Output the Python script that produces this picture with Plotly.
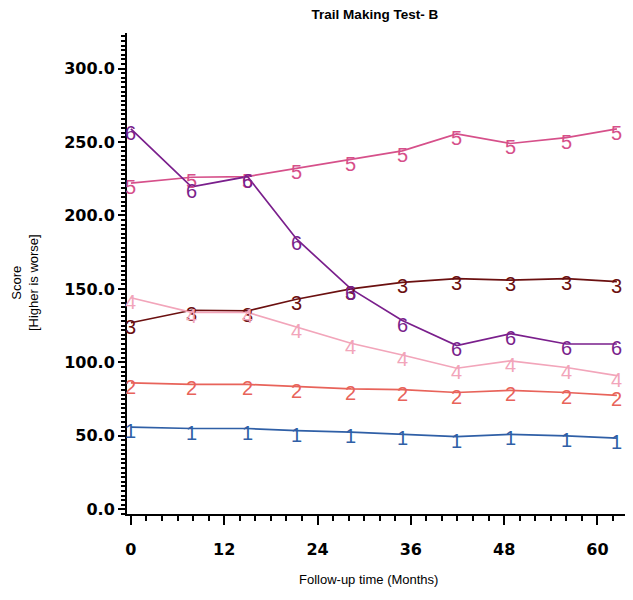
import plotly.graph_objects as go

months = [0, 7.8, 15.0, 21.3, 28.3, 34.9, 41.9, 48.8, 56.0, 62.5]

series_names = ["1", "2", "3", "4", "5", "6"]
s1 = [56, 55, 55, 53.5, 52.5, 51, 49.5, 51, 50, 48.5]
s2 = [86, 85, 85, 83.5, 82, 81.5, 79.5, 81, 79.5, 77.5]
s3 = [127, 135.5, 135, 143, 150, 154.5, 157, 156, 157, 155]
s4 = [144, 134, 134, 124, 113, 105, 96, 101, 96.5, 91]
s5 = [222, 226, 226.5, 232, 238, 244, 255.5, 249, 253, 259]
s6 = [259, 219.5, 226.5, 184, 150, 128.5, 111.5, 119.5, 112.5, 112.5]
series_values = [s1, s2, s3, s4, s5, s6]
colors = ["#2f5fa6", "#e8635a", "#6b1010", "#f2a5ba", "#d6508a", "#7a1f8c"]

x_tick_vals = [0, 12, 24, 36, 48, 60]
y_tick_vals = [0, 50, 100, 150, 200, 250, 300]
y_tick_text = ["0.0", "50.0", "100.0", "150.0", "200.0", "250.0", "300.0"]

fig = go.Figure()
annotations = []
for name, vals, col in zip(series_names, series_values, colors):
    fig.add_trace(go.Scatter(
        x=months, y=vals, mode="lines", name=name,
        line=dict(color=col, width=1.7), showlegend=False,
    ))
    for xv, yv in zip(months, vals):
        annotations.append(dict(
            x=xv, y=yv, xref="x", yref="y", text=name, showarrow=False,
            xanchor="center", yanchor="middle", yshift=-4,
            font=dict(family="Liberation Sans", size=20, color=col),
        ))

annotations.append(dict(text="Score<br>[Higher is worse]", textangle=-90,
                        xref="paper", yref="paper", x=-0.204, y=0.48,
                        xanchor="center", yanchor="middle", showarrow=False,
                        font=dict(family="Liberation Sans", size=13, color="black")))
annotations.append(dict(text="Follow-up time (Months)",
                        xref="paper", yref="paper", x=0.482, y=-0.137,
                        xanchor="center", yanchor="middle", showarrow=False,
                        font=dict(family="Liberation Sans", size=13, color="black")))

fig.update_layout(
    width=625, height=592,
    margin=dict(l=119, r=6, t=25, b=86, autoexpand=False),
    paper_bgcolor="white", plot_bgcolor="white",
    title=dict(text="<b>Trail Making Test- B</b>", x=0.587, xanchor="center",
               y=0.989, yanchor="middle",
               font=dict(family="Liberation Sans", size=13.5, color="black")),
    xaxis=dict(range=[-0.5, 63.8], tickvals=x_tick_vals, automargin=False,
               ticks="outside", ticklen=9, tickwidth=2, tickcolor="black",
               showline=True, linecolor="black", linewidth=2,
               showgrid=False, zeroline=False,
               tickfont=dict(family="DejaVu Sans", size=16, color="black", weight="bold"),
               ticklabelstandoff=11,
               minor=dict(dtick=2, ticks="outside", ticklen=5, tickwidth=2, tickcolor="black")),
    yaxis=dict(range=[-3.2, 324.2], tickvals=y_tick_vals, ticktext=y_tick_text, automargin=False,
               ticks="outside", ticklen=7, tickwidth=2, tickcolor="black",
               showline=True, linecolor="black", linewidth=2,
               showgrid=False, zeroline=False,
               tickfont=dict(family="DejaVu Sans", size=16, color="black", weight="bold"),
               minor=dict(dtick=3.125, ticks="outside", ticklen=4, tickwidth=1.5, tickcolor="black")),
    annotations=annotations,
)

fig.write_html("out.html")
